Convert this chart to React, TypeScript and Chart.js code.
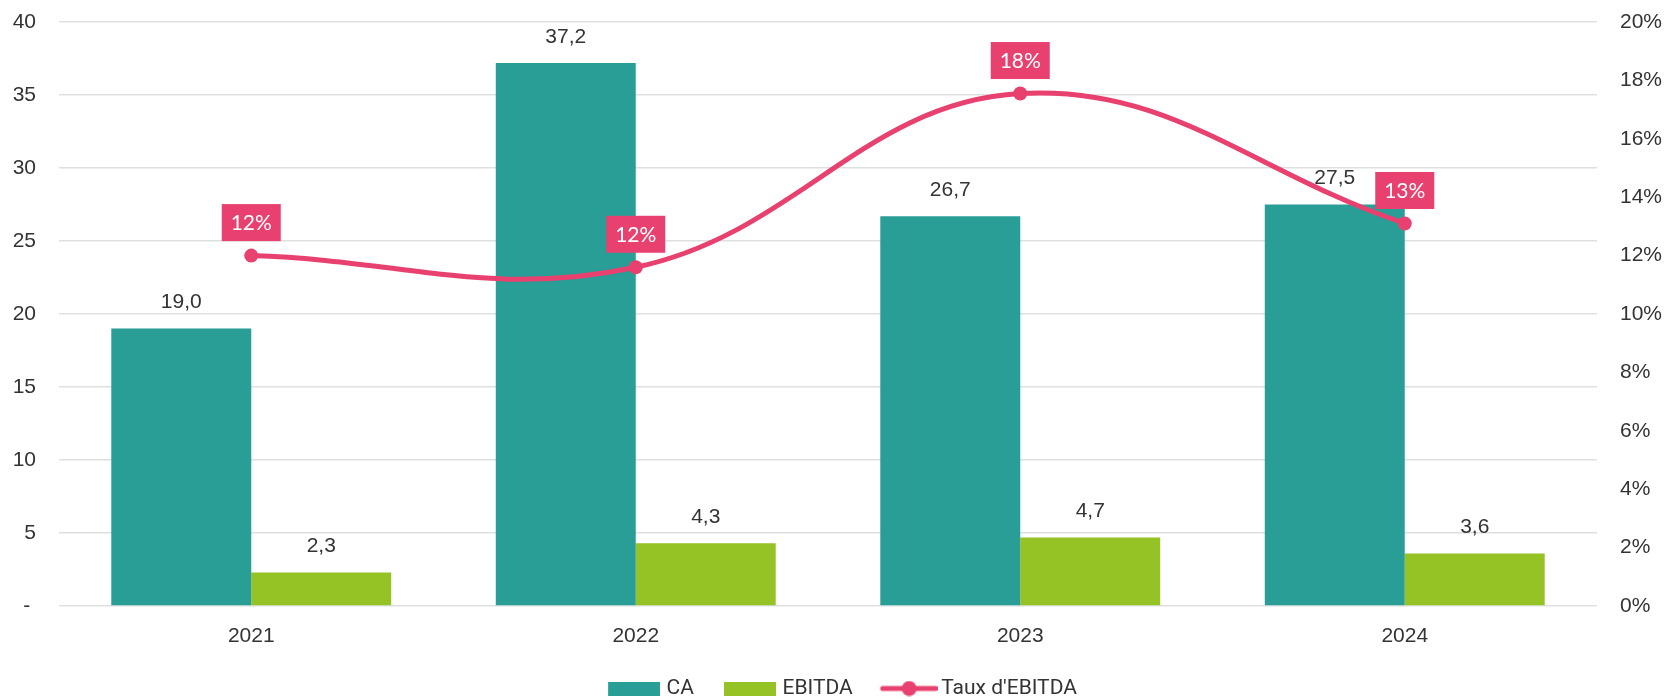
import React, { useEffect, useRef } from "react";
import { Chart, registerables } from "chart.js";

Chart.register(...registerables);

const categories = ["2021", "2022", "2023", "2024"];
const caValues = [19.0, 37.2, 26.7, 27.5];
const ebitdaValues = [2.3, 4.3, 4.7, 3.6];
const tauxValues = [12.0, 11.6, 17.55, 13.1];
const seriesNames = ["CA", "EBITDA", "Taux d'EBITDA"];

const TEAL = "#289E96";
const GREEN = "#95C224";
const PINK = "#E8406F";
const TEXT = "#333333";
const GRID = "#DCE1E0";
const SANS = "'Liberation Sans', Arial, sans-serif";

function makeBoxIcon(color: string) {
  const c = document.createElement("canvas");
  c.width = 76;
  c.height = 14;
  const ctx = c.getContext("2d")!;
  ctx.fillStyle = color;
  ctx.fillRect(24, 0, 52, 14);
  return c;
}

function makeLineIcon(color: string) {
  const c = document.createElement("canvas");
  c.width = 82;
  c.height = 16;
  const ctx = c.getContext("2d")!;
  ctx.strokeStyle = color;
  ctx.lineWidth = 5;
  ctx.lineCap = "round";
  ctx.beginPath();
  ctx.moveTo(27, 8);
  ctx.lineTo(80, 8);
  ctx.stroke();
  ctx.fillStyle = color;
  ctx.beginPath();
  ctx.arc(53.5, 8, 7.5, 0, Math.PI * 2);
  ctx.fill();
  return c;
}

const labelPlugin = {
  id: "valueLabels",
  afterDatasetsDraw(chart: any) {
    const ctx = chart.ctx;
    ctx.save();
    ctx.textAlign = "center";
    ctx.textBaseline = "middle";
    [0, 1].forEach((di) => {
      const meta = chart.getDatasetMeta(di);
      const data = chart.data.datasets[di].data as number[];
      ctx.font = "21px " + SANS;
      ctx.fillStyle = TEXT;
      meta.data.forEach((el: any, i: number) => {
        const txt = data[i].toFixed(1).replace(".", ",");
        ctx.fillText(txt, el.x, el.y - 26);
      });
    });
    const lmeta = chart.getDatasetMeta(2);
    const ldata = chart.data.datasets[2].data as number[];
    ctx.font = "21px Lato, 'Noto Sans', sans-serif";
    lmeta.data.forEach((el: any, i: number) => {
      const cy = el.y - 33;
      ctx.fillStyle = PINK;
      ctx.fillRect(el.x - 29.5, cy - 18.5, 59, 37);
      ctx.fillStyle = "#FFFFFF";
      ctx.fillText(Math.round(ldata[i]) + "%", el.x, cy + 1);
    });
    ctx.restore();
  },
};

export default function App() {
  const ref = useRef<HTMLCanvasElement>(null);
  useEffect(() => {
    const icons = [makeBoxIcon(TEAL), makeBoxIcon(GREEN), makeLineIcon(PINK)];
    const chart = new Chart(ref.current!, {
      type: "bar",
      data: {
        labels: categories,
        datasets: [
          {
            type: "bar",
            label: seriesNames[0],
            data: caValues,
            backgroundColor: TEAL,
            yAxisID: "y",
            order: 1,
            barPercentage: 1,
            categoryPercentage: 0.728,
          },
          {
            type: "bar",
            label: seriesNames[1],
            data: ebitdaValues,
            backgroundColor: GREEN,
            yAxisID: "y",
            order: 1,
            barPercentage: 1,
            categoryPercentage: 0.728,
          },
          {
            type: "line",
            label: seriesNames[2],
            data: tauxValues,
            borderColor: PINK,
            backgroundColor: PINK,
            borderWidth: 5,
            pointRadius: 7,
            pointBackgroundColor: PINK,
            pointBorderWidth: 0,
            tension: 0.4,
            yAxisID: "y1",
            order: 0,
          } as any,
        ],
      },
      options: {
        responsive: false,
        animation: false,
        devicePixelRatio: 1,
        layout: { padding: { top: 22, left: 0, right: 0, bottom: -10 } },
        plugins: {
          tooltip: { enabled: false },
          legend: {
            position: "bottom",
            labels: {
              usePointStyle: true,
              pointStyleWidth: 68,
              boxHeight: 14,
              padding: 10,
              color: TEXT,
              font: { family: "Roboto, sans-serif", size: 21 },
              sort: (a: any, b: any) => a.datasetIndex - b.datasetIndex,
              generateLabels: (ch: any) => {
                const items = (Chart.defaults.plugins.legend.labels as any).generateLabels(ch);
                return items.map((it: any) => ({ ...it, pointStyle: icons[it.datasetIndex] }));
              },
            },
          },
        },
        scales: {
          x: {
            grid: { display: false, drawTicks: false },
            border: { display: false },
            ticks: {
              color: TEXT,
              padding: 18,
              font: { family: SANS, size: 21 },
            },
            afterFit: (s: any) => {
              s.height = 62;
            },
          },
          y: {
            position: "left",
            min: 0,
            max: 40,
            ticks: {
              stepSize: 5,
              padding: 23,
              color: TEXT,
              font: { family: SANS, size: 21 },
              callback: (v: any) => (v === 0 ? "- " : String(v)),
            },
            grid: { color: GRID, lineWidth: 1.5, drawTicks: false },
            border: { display: false },
            afterFit: (s: any) => {
              s.width = 59;
              s.paddingTop = 0;
              s.paddingBottom = 0;
            },
          },
          y1: {
            position: "right",
            min: 0,
            max: 20,
            ticks: {
              stepSize: 2,
              padding: 23,
              color: TEXT,
              font: { family: SANS, size: 21 },
              callback: (v: any) => v + "%",
            },
            grid: { display: false, drawOnChartArea: false, drawTicks: false },
            border: { display: false },
            afterFit: (s: any) => {
              s.width = 68;
              s.paddingTop = 0;
              s.paddingBottom = 0;
            },
          },
        },
      },
      plugins: [labelPlugin],
    });
    return () => chart.destroy();
  }, []);
  return (
    <div style={{ position: "fixed", left: 0, top: 0, width: 1665, height: 699, background: "#fff" }}>
      <canvas ref={ref} width={1665} height={699} />
    </div>
  );
}
